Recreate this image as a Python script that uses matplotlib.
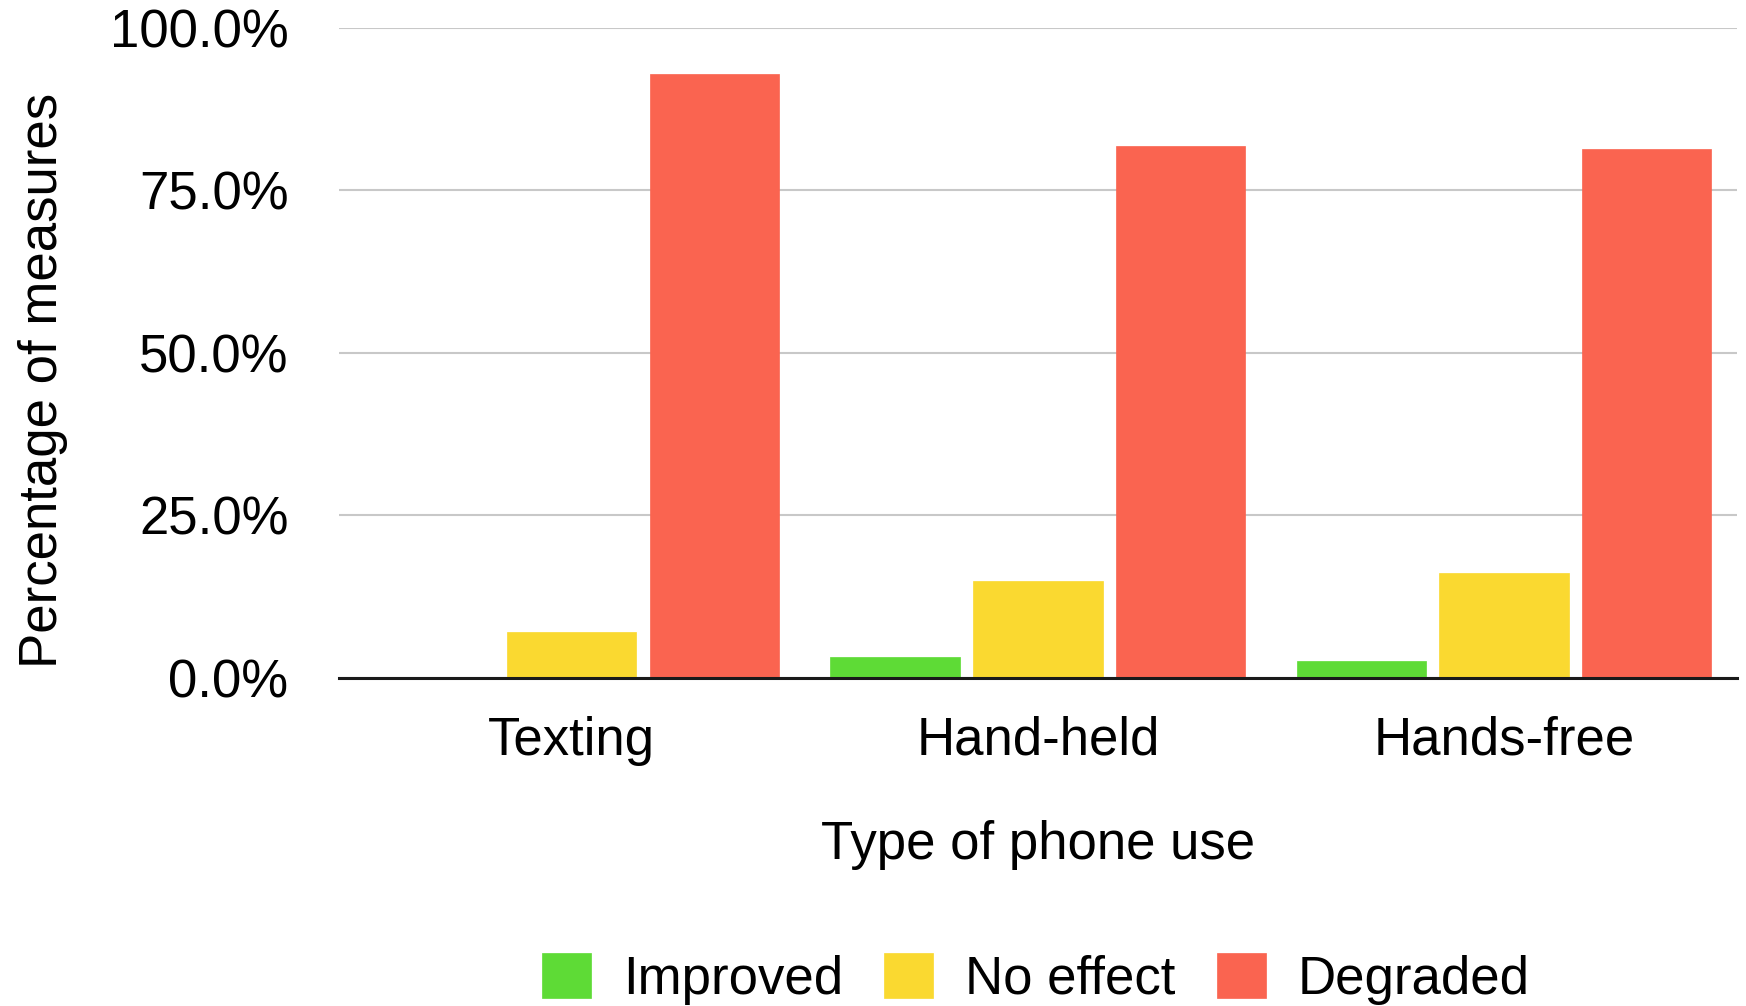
import matplotlib
matplotlib.use("Agg")
import matplotlib.pyplot as plt
import numpy as np
from matplotlib.ticker import FuncFormatter

plt.rcParams['font.family'] = ['Liberation Sans', 'DejaVu Sans']

categories = ["Texting", "Hand-held", "Hands-free"]
series_names = ["Improved", "No effect", "Degraded"]
improved = [0.0, 3.3, 2.6]
no_effect = [7.1, 14.9, 16.1]
degraded = [92.9, 81.8, 81.3]
colors = ["#5EDB36", "#FAD930", "#FA6450"]
y_ticks = [0, 25, 50, 75, 100]

fig = plt.figure(figsize=(17.46, 10.06), dpi=100)
ax = fig.add_axes([0.1939, 0.326, 0.801, 0.6463])

x = np.arange(len(categories))
bar_w = 0.2775
step = 0.306
for i, (vals, name, col) in enumerate(zip([improved, no_effect, degraded], series_names, colors)):
    ax.bar(x + (i - 1) * step, vals, width=bar_w, color=col, label=name,
           zorder=3, edgecolor=col, linewidth=0.5)

ax.set_xlim(-0.5, 2.5)
ax.set_ylim(0, 100)
ax.set_yticks(y_ticks)
ax.yaxis.set_major_formatter(FuncFormatter(lambda v, p: f"{v:.1f}%"))
ax.set_xticks(x)
ax.set_xticklabels(categories)

ax.grid(axis="y", color="#c8c8c8", linewidth=1.5, zorder=0)
for s in ["left", "right", "top"]:
    ax.spines[s].set_visible(False)
ax.spines["bottom"].set_color("#1a1a1a")
ax.spines["bottom"].set_linewidth(2.2)
ax.spines["bottom"].set_zorder(4)
ax.tick_params(axis="both", length=0, labelsize=38)
ax.tick_params(axis="y", pad=36)
ax.tick_params(axis="x", pad=27)

ax.set_ylabel("Percentage of measures", fontsize=38, labelpad=30)
ax.yaxis.label.set_y(0.458)
ax.set_xlabel("Type of phone use", fontsize=38, labelpad=39)

ax.legend(loc="center", bbox_to_anchor=(0.4985, -0.463), ncol=3, frameon=False,
          fontsize=38, handlelength=0.93, handleheight=0.93, handletextpad=0.6,
          columnspacing=0.78, borderaxespad=0)

fig.savefig("out.png", dpi=100)
